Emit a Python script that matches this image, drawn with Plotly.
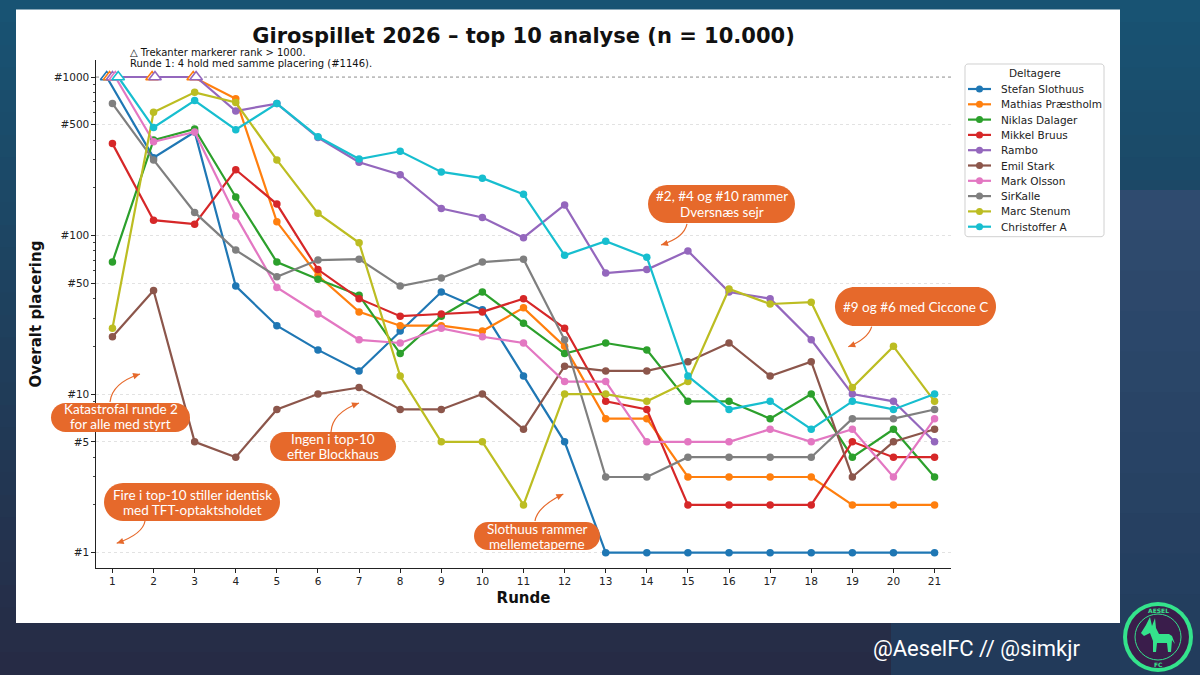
import numpy as np
import plotly.graph_objects as go

# ---------------- data ----------------
rounds = list(range(1, 22))
RANK_CAP = 1000  # ranks above this are drawn as open triangles on the cap line

participants = ["Stefan Slothuus", "Mathias Præstholm", "Niklas Dalager", "Mikkel Bruus",
                "Rambo", "Emil Stark", "Mark Olsson", "SirKalle", "Marc Stenum", "Christoffer A"]

stefan_slothuus   = [1146, 310, 450, 48, 27, 19, 14, 25, 44, 34, 13, 5, 1, 1, 1, 1, 1, 1, 1, 1, 1]
mathias_praestholm = [1146, 1080, 1050, 730, 122, 56, 33, 27, 27, 25, 35, 20, 7, 7, 3, 3, 3, 3, 2, 2, 2]
niklas_dalager    = [68, 400, 470, 175, 68, 53, 42, 18, 31, 44, 28, 18, 21, 19, 9, 9, 7, 10, 4, 6, 3]
mikkel_bruus      = [380, 125, 118, 260, 158, 61, 40, 31, 32, 33, 40, 26, 9, 8, 2, 2, 2, 2, 5, 4, 4]
rambo             = [1146, 1180, 1020, 610, 680, 415, 290, 242, 148, 130, 97, 156, 58, 61, 80, 44, 40, 22, 10, 9, 5]
emil_stark        = [23, 45, 5, 4, 8, 10, 11, 8, 8, 10, 6, 15, 14, 14, 16, 21, 13, 16, 3, 5, 6]
mark_olsson       = [1146, 390, 450, 133, 47, 32, 22, 21, 26, 23, 21, 12, 12, 5, 5, 5, 6, 5, 6, 3, 7]
sirkalle          = [680, 300, 140, 81, 55, 70, 71, 48, 54, 68, 71, 22, 3, 3, 4, 4, 4, 4, 7, 7, 8]
marc_stenum       = [26, 600, 800, 690, 300, 138, 90, 13, 5, 5, 2, 10, 10, 9, 12, 46, 37, 38, 11, 20, 9]
christoffer_a     = [1210, 480, 710, 465, 680, 420, 304, 340, 252, 230, 182, 75, 92, 73, 13, 8, 9, 6, 9, 8, 10]

series = [stefan_slothuus, mathias_praestholm, niklas_dalager, mikkel_bruus, rambo,
          emil_stark, mark_olsson, sirkalle, marc_stenum, christoffer_a]

colors = ["#1f77b4", "#ff7f0e", "#2ca02c", "#d62728", "#9467bd",
          "#8c564b", "#e377c2", "#7f7f7f", "#bcbd22", "#17becf"]

y_tickvals = [1, 5, 10, 50, 100, 500, 1000]
y_ticktext = ["#1", "#5", "#10", "#50", "#100", "#500", "#1000"]
y_minor = [v * m for v in (1, 10, 100) for m in range(2, 10) if v * m not in (5, 50, 500)]

title_text = "Girospillet 2026 – top 10 analyse (n = 10.000)"
note_lines = ["△ Trekanter markerer rank > 1000.",
              "Runde 1: 4 hold med samme placering (#1146)."]
legend_title = "Deltagere"

# ---------------- geometry helpers (pixel -> paper) ----------------
W, H = 1200, 675
L, R, T, B = 96, 951, 60, 568
X_RANGE = [0.6, 21.4]
Y_RANGE = [np.log10(0.8), np.log10(1280)]


def px(x):
    return (x - L) / (R - L)


def py(y):
    return (B - y) / (B - T)


def path_from(cmds, close=True):
    out = []
    for cmd, pts in cmds:
        coords = " ".join(f"{px(a):.5f},{py(b):.5f}" for a, b in pts)
        out.append(f"{cmd}{coords}")
    return " ".join(out) + (" Z" if close else "")


def polygon(points):
    cmds = [("M", [points[0]])] + [("L", [p]) for p in points[1:]]
    return path_from(cmds)


def round_rect(x0, y0, x1, y1, r):
    k = 0.5523 * r
    cmds = [
        ("M", [(x0 + r, y0)]),
        ("L", [(x1 - r, y0)]),
        ("C", [(x1 - r + k, y0), (x1, y0 + r - k), (x1, y0 + r)]),
        ("L", [(x1, y1 - r)]),
        ("C", [(x1, y1 - r + k), (x1 - r + k, y1), (x1 - r, y1)]),
        ("L", [(x0 + r, y1)]),
        ("C", [(x0 + r - k, y1), (x0, y1 - r + k), (x0, y1 - r)]),
        ("L", [(x0, y0 + r)]),
        ("C", [(x0, y0 + r - k), (x0 + r - k, y0), (x0 + r, y0)]),
    ]
    return path_from(cmds)


ORANGE = "#e6692b"

fig = go.Figure()

# threshold line at the cap
fig.add_trace(go.Scatter(x=X_RANGE, y=[RANK_CAP, RANK_CAP], mode="lines",
                         line=dict(color="#9a9a9a", width=1, dash="dot"),
                         showlegend=False, hoverinfo="skip"))

# jitter for capped points at the same round
offsets = [[0.0] * len(rounds) for _ in series]
for j in range(len(rounds)):
    capped = [i for i, s in enumerate(series) if s[j] > RANK_CAP]
    k = len(capped)
    for n, i in enumerate(capped):
        offsets[i][j] = (n - (k - 1) / 2) * 0.07

tri_traces = []
for i, (name, vals, col) in enumerate(zip(participants, series, colors)):
    xs = [r + o for r, o in zip(rounds, offsets[i])]
    ys = [min(v, RANK_CAP) for v in vals]
    sizes = [0 if v > RANK_CAP else 7.5 for v in vals]
    fig.add_trace(go.Scatter(x=xs, y=ys, mode="lines+markers", name=name, showlegend=False,
                             line=dict(color=col, width=2.2),
                             marker=dict(color=col, size=sizes, symbol="circle", opacity=1,
                                         line=dict(width=0))))
    cx = [x for x, v in zip(xs, vals) if v > RANK_CAP]
    if cx:
        tri_traces.append(go.Scatter(x=cx, y=[RANK_CAP] * len(cx), mode="markers",
                                     marker=dict(symbol="triangle-up", size=11, color="white",
                                                 line=dict(color=col, width=1.6)),
                                     showlegend=False, hoverinfo="skip"))
for t in tri_traces:
    fig.add_trace(t)

# ---------------- background shapes ----------------
shapes = []
nb = 30
c_top = np.array([24, 84, 116])
c_bot = np.array([39, 43, 69])
for b in range(nb):
    y0 = H * b / nb
    y1 = H * (b + 1) / nb + 1
    c = c_top + (c_bot - c_top) * (b + 0.5) / nb
    shapes.append(dict(type="rect", xref="paper", yref="paper", layer="below",
                       x0=px(0), x1=px(W), y0=py(y1), y1=py(y0),
                       fillcolor=f"rgb({int(c[0])},{int(c[1])},{int(c[2])})", line=dict(width=0)))
c_rt = np.array([48, 76, 112])
c_rb = np.array([34, 60, 92])
for b in range(12):
    y0 = 190 + (H - 190) * b / 12
    y1 = 190 + (H - 190) * (b + 1) / 12 + 1
    c = c_rt + (c_rb - c_rt) * (b + 0.5) / 12
    shapes.append(dict(type="rect", xref="paper", yref="paper", layer="below",
                       x0=px(1120), x1=px(W), y0=py(y1), y1=py(y0),
                       fillcolor=f"rgb({int(c[0])},{int(c[1])},{int(c[2])})", line=dict(width=0)))
shapes.append(dict(type="rect", xref="paper", yref="paper", layer="below",
                   x0=px(891), x1=px(1120), y0=py(H), y1=py(623),
                   fillcolor="rgb(34,58,90)", line=dict(width=0)))
shapes.append(dict(type="rect", xref="paper", yref="paper", layer="below",
                   x0=px(16), x1=px(1120), y0=py(623), y1=py(9.5),
                   fillcolor="white", line=dict(width=0)))

annotations = []

# ---------------- legend (drawn from participants / colors) ----------------
LG_X0, LG_Y0, LG_X1 = 965, 64, 1104
LG_ROW0, LG_STEP = 89, 15.3
LG_Y1 = LG_ROW0 + LG_STEP * (len(participants) - 1) + 10
shapes.append(dict(type="path", xref="paper", yref="paper", layer="above",
                   path=round_rect(LG_X0, LG_Y0, LG_X1, LG_Y1, 3),
                   fillcolor="rgba(255,255,255,0.9)", line=dict(color="#d0d0d0", width=1)))
annotations.append(dict(text=legend_title, x=px((LG_X0 + LG_X1) / 2), y=py(73.5), xref="paper", yref="paper",
                        showarrow=False, xanchor="center", yanchor="middle",
                        font=dict(family="DejaVu Sans", size=10.5, color="#222")))
for i, (name, col) in enumerate(zip(participants, colors)):
    yy = LG_ROW0 + i * LG_STEP
    shapes.append(dict(type="line", xref="paper", yref="paper", layer="above",
                       x0=px(968), x1=px(991), y0=py(yy), y1=py(yy), line=dict(color=col, width=2.2)))
    shapes.append(dict(type="circle", xref="paper", yref="paper", layer="above",
                       x0=px(979.5 - 3.5), x1=px(979.5 + 3.5), y0=py(yy + 3.5), y1=py(yy - 3.5),
                       fillcolor=col, line=dict(width=0)))
    annotations.append(dict(text=name, x=px(999), y=py(yy), xref="paper", yref="paper",
                            showarrow=False, xanchor="left", yanchor="middle",
                            font=dict(family="DejaVu Sans", size=10.5, color="#222")))

# ---------------- callouts ----------------
callouts = [
    dict(box=(648, 185, 795, 223), lines=[("#2, #4 og #10 rammer", 196), ("Dversnæs sejr", 211.5)],
         arrow=((687, 224), (684, 238), (661, 245))),
    dict(box=(835, 287, 996, 326), lines=[("#9 og #6 med Ciccone C", 307)],
         arrow=((871.7, 326.7), (868, 339), (848.3, 346.7))),
    dict(box=(51, 403, 190, 432), lines=[("Katastrofal runde 2", 409), ("for alle med styrt", 424)],
         arrow=((110, 402), (112, 383), (140, 374))),
    dict(box=(270, 432, 396, 461), lines=[("Ingen i top-10", 438.5), ("efter Blockhaus", 453.5)],
         arrow=((331, 432), (332, 413), (359, 403))),
    dict(box=(104, 483, 280, 521), lines=[("Fire i top-10 stiller identisk", 494.5), ("med TFT-optaktsholdet", 510)],
         arrow=((145, 521), (143, 534), (116.7, 543.3))),
    dict(box=(474, 522, 600, 550), lines=[("Slothuus rammer", 528.5), ("mellemetaperne", 543.5)],
         arrow=((535, 521), (537, 507), (563.3, 494))),
]

for co in callouts:
    x0, y0, x1, y1 = co["box"]
    shapes.append(dict(type="path", xref="paper", yref="paper", layer="above",
                       path=round_rect(x0, y0, x1, y1, (y1 - y0) / 2), fillcolor=ORANGE, line=dict(width=0)))
    for txt, ty in co["lines"]:
        annotations.append(dict(text=txt, x=px((x0 + x1) / 2), y=py(ty), xref="paper", yref="paper",
                                showarrow=False, xanchor="center", yanchor="middle",
                                font=dict(family="Lato", size=13.5, color="white")))
    (sx, sy), (cx, cy), (ex, ey) = co["arrow"]
    shapes.append(dict(type="path", xref="paper", yref="paper", layer="above",
                       path=path_from([("M", [(sx, sy)]), ("Q", [(cx, cy), (ex, ey)])], close=False),
                       line=dict(color=ORANGE, width=1.2)))
    d = np.array([ex - cx, ey - cy], dtype=float)
    d /= np.linalg.norm(d)
    nrm = np.array([-d[1], d[0]])
    tip = np.array([ex, ey])
    base = tip - 7 * d
    shapes.append(dict(type="path", xref="paper", yref="paper", layer="above",
                       path=polygon([tuple(tip), tuple(base + 3.2 * nrm), tuple(base - 3.2 * nrm)]),
                       fillcolor=ORANGE, line=dict(width=0)))

# note lines
for txt, ty in zip(note_lines, (52.5, 63.5)):
    annotations.append(dict(text=txt, x=px(128), y=py(ty), xref="paper", yref="paper",
                            showarrow=False, xanchor="left", yanchor="middle",
                            font=dict(family="DejaVu Sans", size=10, color="#111")))

# watermark
annotations.append(dict(text="@AeselFC // @simkjr", x=px(976), y=py(648), xref="paper", yref="paper",
                        showarrow=False, xanchor="center", yanchor="middle",
                        font=dict(family="Roboto", size=22, color="white")))

# logo
LX, LY = 1158, 637
GREEN = "#34e38c"
PURPLE = "#3a1d4b"
shapes.append(dict(type="circle", xref="paper", yref="paper", layer="above",
                   x0=px(LX - 35), x1=px(LX + 35), y0=py(LY + 35), y1=py(LY - 35),
                   fillcolor=GREEN, line=dict(width=0)))
shapes.append(dict(type="circle", xref="paper", yref="paper", layer="above",
                   x0=px(LX - 31), x1=px(LX + 31), y0=py(LY + 31), y1=py(LY - 31),
                   fillcolor=PURPLE, line=dict(width=0)))
shapes.append(dict(type="circle", xref="paper", yref="paper", layer="above",
                   x0=px(LX - 23), x1=px(LX + 23), y0=py(LY + 23), y1=py(LY - 23),
                   fillcolor=PURPLE, line=dict(color=GREEN, width=1)))
donkey = [(-8, -20), (-6, -11), (-3, -19), (-2, -9), (1, -3), (11, -3), (14, -1), (17, 7), (14, 3),
          (13, 15), (10, 15), (9, 6), (-1, 6), (-2, 15), (-5, 15), (-5, 4), (-8, -4), (-14, -1),
          (-17, -4), (-12, -12)]
shapes.append(dict(type="path", xref="paper", yref="paper", layer="above",
                   path=polygon([(LX + a, LY + b) for a, b in donkey]),
                   fillcolor=GREEN, line=dict(width=0)))
annotations.append(dict(text="AESEL", x=px(LX), y=py(LY - 27), xref="paper", yref="paper", showarrow=False,
                        xanchor="center", yanchor="middle",
                        font=dict(family="DejaVu Sans", size=6, color=GREEN, weight="bold")))
annotations.append(dict(text="FC", x=px(LX), y=py(LY + 27), xref="paper", yref="paper", showarrow=False,
                        xanchor="center", yanchor="middle",
                        font=dict(family="DejaVu Sans", size=6, color=GREEN, weight="bold")))

fig.update_layout(
    width=W, height=H,
    margin=dict(l=L, r=W - R, t=T, b=H - B),
    paper_bgcolor="rgb(39,43,69)",
    plot_bgcolor="rgba(0,0,0,0)",
    font=dict(family="DejaVu Sans", color="#222"),
    title=dict(text=title_text, x=px(523.5), xref="paper", xanchor="center",
               y=1 - 36 / H, yref="container", yanchor="middle",
               font=dict(family="DejaVu Sans", size=21, color="#111", weight="bold")),
    xaxis=dict(range=X_RANGE, tickvals=rounds, ticktext=[str(r) for r in rounds],
               showgrid=False, zeroline=False, showline=True, linecolor="#222", linewidth=1.2,
               ticks="outside", ticklen=3.5, tickwidth=1, tickcolor="#222",
               tickfont=dict(size=10.5, color="#222"),
               title=dict(text="Runde", standoff=6,
                          font=dict(size=15, weight="bold", color="#111"))),
    yaxis=dict(type="log", range=Y_RANGE, tickvals=y_tickvals, ticktext=y_ticktext,
               showgrid=True, gridcolor="#e2e2e2", griddash="dot", gridwidth=0.8,
               zeroline=False, showline=True, linecolor="#222", linewidth=1.2,
               ticks="outside", ticklen=3.5, tickwidth=1, tickcolor="#222",
               tickfont=dict(size=10.5, color="#222"),
               minor=dict(tickvals=y_minor, ticks="outside", ticklen=2, tickwidth=0.8,
                          tickcolor="#444", showgrid=False),
               title=dict(text="Overalt placering", standoff=8,
                          font=dict(size=15, weight="bold", color="#111"))),
    shapes=shapes,
    annotations=annotations,
    showlegend=False,
)

fig.write_html("out.html")
